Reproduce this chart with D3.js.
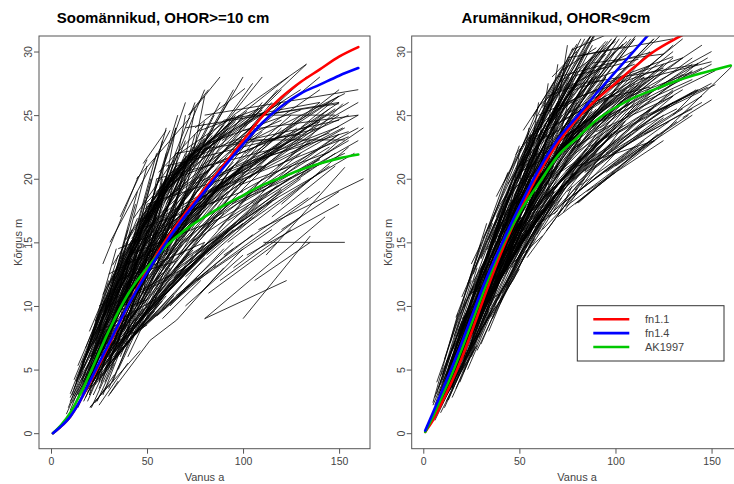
<!DOCTYPE html>
<html><head><meta charset="utf-8">
<script src="https://cdn.jsdelivr.net/npm/d3@7"></script>
<style>body{margin:0;background:#fff}svg{display:block}text{font-family:"Liberation Sans",Arial,sans-serif}</style>
</head><body><div id="chart"></div>
<script>
// ---------- DATA ----------
const panelTitles = ["Soomännikud, OHOR>=10 cm", "Arumännikud, OHOR<9cm"];
const xLabel = "Vanus a";
const yLabel = "Kõrgus m";
const xTicks = [0, 50, 100, 150];
const yTicks = [0, 5, 10, 15, 20, 25, 30];
const seriesNames = ["fn1.1", "fn1.4", "AK1997"];
const seriesColors = ["#ff0000", "#0000ff", "#00c800"];

// fitted curves, left panel: [age, height]
const leftFn11 = [[1,0],[5,0.5],[10,1.3],[15,2.5],[20,3.9],[30,6.9],[40,10.0],[50,12.8],[60,15.2],[70,17.3],[80,19.2],[90,21.1],[100,23.0],[110,24.9],[120,26.4],[130,27.6],[140,28.6],[150,29.6],[160,30.35]];
const leftFn14 = [[1,0],[5,0.5],[10,1.3],[15,2.5],[20,4.0],[30,7.0],[40,10.0],[50,12.6],[60,15.0],[70,17.1],[80,19.0],[90,20.9],[100,22.7],[110,24.4],[120,25.7],[130,26.7],[140,27.4],[150,28.1],[160,28.7]];
const leftAK = [[1,0],[5,0.6],[10,1.6],[15,3.0],[20,4.6],[30,8.0],[40,10.9],[50,13.0],[60,14.7],[70,16.0],[80,17.0],[90,17.9],[100,18.7],[110,19.5],[120,20.1],[130,20.7],[140,21.2],[150,21.6],[160,21.9]];
// fitted curves, right panel
const rightFn11 = [[1,0.1],[5,1.0],[10,2.5],[15,4.1],[20,5.9],[25,7.9],[30,10.0],[40,14.0],[50,17.4],[60,20.4],[70,22.8],[80,24.7],[90,26.2],[100,27.5],[110,28.8],[120,30.0],[130,30.9],[140,31.7]];
const rightFn14 = [[1,0.2],[5,1.6],[10,3.4],[15,5.2],[20,7.1],[25,9.1],[30,11.1],[40,14.6],[50,17.8],[60,20.7],[70,23.1],[80,24.9],[90,26.7],[100,28.4],[110,30.1],[120,31.8]];
const rightAK = [[1,0.1],[5,1.3],[10,3.0],[15,4.7],[20,6.6],[25,8.6],[30,10.6],[40,14.4],[50,17.3],[60,19.6],[70,21.8],[80,23.2],[90,24.6],[100,25.6],[110,26.4],[120,27.0],[130,27.6],[140,28.1],[150,28.5],[160,28.9]];

// measured trees: [age1, height1, age2, height2]
const leftSegments = [
[8,1.5,30,9],[9,2,35,12],[10,2.5,28,8],[10,1.8,40,13],[11,3,33,12.5],[12,2,45,14],[12,3.5,30,11],[13,2.5,38,11],[13,4,28,10.5],[14,3,50,16],
[14,2,42,12],[15,4.5,35,14],[15,2.5,55,17],[16,3,45,15],[16,5,30,12],[17,2.5,40,10],[17,4,52,18],[18,3.5,48,14],[18,6,34,14.5],[19,2.5,44,11],
[19,5,60,20],[20,3,38,9],[20,4.5,55,17.5],[21,2,30,5],[21,6,42,16],[22,3,36,7.5],[22,5,65,21],[23,4,50,13],[23,7,40,16],[24,2.5,33,5.5],
[24,5.5,58,18],[25,3.5,45,11],[25,8,44,18],[26,4,70,20],[26,6,52,16.5],[27,3,40,8],[27,9,45,19],[28,5,62,17],[28,4,50,12],[29,7,60,20],
[30,3.5,48,9.5],[30,9.5,50,21],[31,6,70,19],[31,5,55,13],[32,8,66,22],[32,4,44,8.5],[33,10,52,20],[33,6,75,18],[34,7,58,16],[35,5,60,13],
[35,11,55,22],[36,8,80,22],[36,6,50,11],[37,9,64,19],[38,12,58,23],[38,7,72,17],[39,10,68,21],[40,6,62,13],[40,13,60,24],[41,9,85,22],
[42,11,70,20],[42,7.5,55,11],[43,14,65,24],[44,10,78,20],[45,8,66,14.5],[45,15,70,26],[46,12,90,24],[47,9,75,16],[48,13,72,22],[48,16,66,25],
[49,10,68,15],[50,11,85,19],[50,14,80,24.5],[50,9,80,15],[52,12,95,21],[52,17,75,26],[54,10,74,14],[55,14,88,22],[55,18,80,27],[56,11,100,20],
[57,15,85,23],[58,9,78,12],[58,13,92,19],[59,16,95,25],[60,12,85,17],[60,18,88,26],[61,14,110,23],[62,10,90,14.5],[62,17,100,25],[63,15,82,20],
[64,12,105,19],[65,19,95,27],[65,13,88,17],[66,16,120,24],[67,11,95,15],[68,18,110,26],[68,14,98,20],[69,20,100,28],[70,15,115,22],[70,10,100,14],
[71,17,130,25],[72,13,108,18],[72,19,118,27],[73,16,90,20],[74,21,105,27.5],[75,14,125,21],[75,18,140,26],[76,12,115,16],[77,20,122,26],[78,16,135,23],
[78,22,110,28],[79,17,100,21],[80,9,142.7,17],[80,19,125,25],[81,14,120,19],[82,21,133,28],[82,11,118,15],[83,18,150,25],[84,15,130,20],[85,20,145,26],
[85,13,140,19],[86,22,120,27],[87,16,110,20],[88,19,152,24],[88,12,125,16],[89,23,130,27],[90,17,160,23],[90,14,134,18.5],[91,20,150,26],[92,15,140,20.5],
[93,22,140,27],[94,18,153,22],[95,13,130,17],[96,21,155,25],[96.7,23.05,153,23.05],[97,16,145,21],[98,24,133,29],[99,19,160,24],[100,9,135,15.5],[100,17,148,22],
[101,22,150,26.5],[102,14,150,18],[103,20,140,24.5],[104,23,153,26.7],[104.5,25,148,25],[105,18,162.7,24],[106,12,135,15],[107,21,145,25.5],[108,16,162.7,20],[108,24,140,28],
[110,19,150,23.5],[110.6,15,153,15],[111,22,155,26],[112,14,153,20.9],[113,20,152,25.9],[115,17,148,21],[116,23,150,27],[118,21,153,24],[120,18,155,22.5],[80,9,122.7,12],
[120,16,150,19],[125,22,160,25],[128,20,150,23],[130,24,150,26.5],
[15,3,40,12],[16,4,46,16],[18,2.8,38,9],[20,5,48,17],[22,4,52,14.5],[24,6,60,19],[26,5,46,13],[28,7,70,22],[30,6,55,15],[32,9,62,21],
[34,6.5,66,16],[36,10,70,23],[38,8,60,16],[40,11,76,23],[42,9,72,18],[44,12,82,23.5],[46,10,70,17],[48,14,85,25],[50,12,76,19],[52,13,100,23],
[54,15,82,23],[56,13,90,20],[58,17,92,26],[60,14,95,21],[62,15,108,24],[64,17,96,25],[66,14,102,20],[68,16,106,23],[70,18,120,26],[72,15,112,21],
[74,17,128,24],[76,19,115,26],[78,14,118,19.5],[80,16,130,22],[84,18,138,24],[86,17,145,22.5],[90,19,142,25],[94,20,148,25.5],[98,18,155,23],[102,21,160,26],
[106,19,150,23.5],[112,18,158,22],
[44.6,20,72.4,24.8],[48,21.2,60,23.8],[72,25,88,28],[75,24,101,27.1],[95,25,133,29],[90,24,123.6,28],[71.5,25,82,27],[27,13.3,45.5,20.2],[30.7,15,62,23.8],[36,17,50,21.5],
[10,3.1,30.7,11],[20.3,2.05,46.4,6.5],[30.7,3.1,51.6,7.3],[20.3,2,30.7,3.9],[29.8,2.9,35,4.1],[23,2.4,33,4.6],[25,2.2,40,5.5],[51.6,7.3,65.5,8.9],[65.5,8.9,90,13],[77.6,11,100,14.5],
[10,2.8,35,11.3],[11,2.4,40,9.9],[12,4.2,30,10.8],[12,2.9,50,12.5],[13,4.1,45,13.3],[14,2.9,32,7.2],[14,5.3,38,13.8],[15,4.3,55,14.8],[16,4.2,42,9.7],[16,5.5,35,11.8],
[17,3.0,44,9.0],[17,5.1,60,17.2],[18,6.7,40,15.0],[18,4.2,36,9.6],[19,6.3,52,14.9],[19,5.2,30,9.0],[20,8.0,45,16.9],[20,4.4,58,12.6],[21,6.1,40,12.7],[21,4.0,34,7.1],
[22,7.6,62,18.3],[22,5.8,48,12.8],[23,8.8,42,14.9],[23,5.5,70,15.3],[24,7.4,50,15.1],[24,5.1,45,9.7],[25,8.5,38,14.3],[25,7.0,66,16.8],[26,9.6,55,17.5],[26,6.6,44,9.5],
[27,8.1,48,12.8],[27,10.9,60,20.1],[28,6.4,75,15.3],[28,9.2,42,13.7],[29,10.4,52,16.2],[29,5.7,55,10.7],[30,9.0,64,17.2],[30,11.6,46,16.0],[31,8.0,50,12.5],[31,10.6,80,20.5],
[32,9.0,45,13.3],[32,13.2,58,19.6],[33,7.4,62,13.2],[33,10.8,70,19.0],[34,12.5,48,15.9],[34,6.1,60,10.8],[35,10.3,85,18.9],[35,12.3,55,18.2],[36,9.1,52,12.9],[36,13.7,78,22.5],
[37,11.3,60,15.8],[37,7.6,68,13.5],[38,12.7,54,16.0],[38,10.0,90,18.7],[39,15.2,66,21.2],[39,9.1,58,13.3],[40,11.6,72,17.8],[40,13.8,56,17.1],[41,7.8,70,13.1],[41,12.9,95,21.3],
[42,14.9,62,19.0],[42,10.3,60,15.1],[43,12.2,80,19.8],[43,16.9,64,21.5],[44,9.5,74,14.4],[44,14.3,58,16.8],[45,13.3,100,21.0],[45,11.5,65,14.5],[46,16.6,72,21.5],[46,9.2,62,12.5],
[47,14.4,85,21.1],[47,12.5,68,16.5],[48,15.9,110,23.7],[48,10.9,76,16.2],[49,13.6,64,17.2],[49,18.0,90,24.6],[50,12.5,78,17.2],[50,15.7,70,19.7],[51,9.5,82,14.6],[51,17.3,105,24.1],
[52,14.9,68,17.2],[52,11.6,95,18.4],[53,18.4,75,22.1],[53,13.7,88,19.9],[54,16.0,120,22.8],[54,10.6,72,14.1],[55,17.5,85,22.6],[55,12.8,78,17.2],[56,15.0,98,20.8],[56,20.5,80,24.3],
[57,11.7,90,17.3],[57,17.3,72,19.3],[58,16.1,115,22.0],[58,9.8,80,13.8],[59,19.1,95,23.5],[59,14.2,76,17.7],[60,17.2,130,23.2],[60,13.0,85,16.6],[62,20.4,88,23.6],[62,16.1,100,21.0],
[64,12.2,110,18.5],[64,18.7,82,20.6],[66,17.5,125,23.0],[66,21.9,95,24.9],[68,15.0,98,18.6],[68,20.2,140,24.5],[70,17.5,105,21.4],[70,12.3,115,18.2],[72,21.5,120,24.6],[72,17.1,92,19.7],
[74,19.6,150,24.1],[74,15.1,125,20.1],[76,23.7,110,25.6],[76,18.4,135,22.8],[78,14.2,120,19.2],[78,21.0,100,23.1],[80,19.8,145,23.6],[82,22.8,130,25.4],[84,17.4,140,21.5],[86,21.2,120,23.4],
[88,19.3,155,23.3],[90,24.6,140,26.0],[92,16.7,135,20.7],[95,22.8,150,24.6],[98,19.5,145,22.1],[100,23.8,160,25.0],[105,21.4,155,23.7],[110,25.0,150,25.9],
[15,4.8,35,11.8],[16,5.3,40,13.5],[18,5.9,38,12.6],[20,6.6,45,14.2],[21,7.2,42,14.5],[22,7.0,50,15.7],[23,7.8,44,15.0],[24,8.2,55,17.3],[25,8.5,48,16.0],[26,9.0,52,17.1],
[27,9.5,50,16.8],[28,9.9,58,18.6],[29,10.4,54,18.0],[30,10.8,62,19.6],[31,11.2,56,18.5],[32,11.5,60,19.7],[33,12.0,58,19.0],[34,12.3,66,20.8],[35,12.8,62,20.3],[36,13.1,70,21.7],
[37,13.6,64,20.5],[38,13.9,72,21.8],[39,14.4,68,21.3],[40,14.4,76,22.6],[41,14.9,70,21.5],[42,15.3,80,23.1],[43,15.6,74,22.5],[44,16.0,84,23.4],[45,16.3,78,22.8],[46,16.5,88,23.6],
[47,16.9,80,23.2],[48,17.2,92,24.0],[49,17.6,84,23.6],[50,17.6,96,24.5],[52,18.1,90,24.2],[54,18.6,100,24.8],[56,19.1,94,24.5],[58,19.6,104,25.0],[60,20.0,98,25.0],[62,20.4,110,25.4],
[64,20.8,102,25.3],[66,21.0,115,25.6],[68,21.4,108,25.5],[70,21.7,120,26.0],
[20,4.8,40,11.0],[22,5.5,46,12.4],[24,6.4,50,13.5],[26,7.0,54,14.3],[28,7.7,60,15.6],[30,8.2,64,16.3],[32,8.8,68,16.8],[34,9.4,72,17.5],[36,9.9,76,18.0],[38,10.5,80,18.7],
[40,11.0,84,19.2],[42,11.5,88,19.6],[44,12.0,92,20.0],[46,12.4,96,20.4],[48,12.9,100,20.8],[50,13.3,105,21.0],
[30,12.5,55,14.5],[35,14.5,60,16.0],[40,9.0,60,20.0],[45,11.0,65,22.0],[50,15.0,75,18.0],[25,10.0,45,11.5],[55,13.0,75,23.5],[60,18.5,85,21.0],
[20,4.4,45,9.7],[18,3.5,40,8.5],[22,4.2,50,10.0],[24,4.6,55,10.5],[26,5.5,48,9.8],[28,5.0,60,11.0],[30,6.0,58,11.5],[32,6.2,66,12.5],[34,6.8,62,11.8],[36,7.0,72,13.0],
[38,7.5,68,12.6],[40,7.8,76,13.5],[42,8.2,80,14.0],[44,8.6,74,13.2],[46,9.0,84,14.8],[48,9.4,78,14.0],[50,9.6,90,15.5],[52,10.2,86,15.0],[54,10.6,95,16.0],[56,11.0,88,15.2],
[58,11.4,100,16.5],[60,11.8,92,15.8],[62,12.2,105,17.0],[64,12.6,96,16.5],[66,13.0,110,17.8],[68,13.4,100,17.0],[70,13.8,118,18.5],
[16,2.8,36,7.0],[19,3.2,42,8.0],[21,3.6,38,6.8],[23,3.8,46,8.8],[25,4.2,44,7.8],[27,4.5,52,9.5],[29,5.2,50,9.0],[31,5.5,56,10.2],[33,5.8,54,9.6],[35,6.3,64,11.0],
[37,6.6,58,10.4],[39,7.0,70,12.0],[41,7.4,64,10.8],[43,7.6,72,11.6],[45,8.0,70,11.2],[47,8.3,82,12.8],[49,8.6,76,12.2],[55,9.2,86,13.2],[60,10.0,95,14.5],[65,10.8,105,15.6],
[25,6.5,60,17.0],[30,7.5,55,16.0],[35,8.5,65,17.5],[40,10.0,70,18.5],[45,11.0,75,19.0],[20,5.0,50,14.0],[28,8.0,40,9.0],[33,9.5,50,10.5],[38,10.5,60,12.0],[43,12.5,65,13.5],
[30,5,45,15],[35,7,50,18],[40,8,55,20],[45,10,60,22],[50,12,65,24],[55,13,70,25],[25,4,40,13],[20,3,32,11],[60,14,75,25.5],[65,15,80,26.5],[38,9,48,17],[48,11,58,20],
[30,10,70,13],[35,12,80,15],[40,14,90,17],[45,16,100,19],[50,18,110,21],[55,20,120,22.5],[60,21,140,24],[65,22,130,23.5],[25,8,60,11],[20,6,50,8.5],[70,24,150,26],[80,25,160,27]
];

const rightSegments = [
[3,0.8,20,6.5],[4,1.2,25,8.5],[5,1.5,18,6],[5,2.2,30,11],[6,1,22,6],[6,2.8,20,8.8],[7,3.1,25,12],[7,1.8,28,9],[8,2,24,7.5],[8,3,35,13],
[9,2.5,30,10],[9,1.6,22,5.5],[10,3.5,32,12.5],[10,2.4,40,14],[11,2,26,7],[11,4,30,12.8],[12,3,38,13.5],[12,4.5,28,11.5],[13,2.6,34,10],[13,5,42,16.5],
[14,3.4,30,9.8],[14,5.5,36,15],[15,4,45,15.5],[15,2.8,27,6.8],[16,5,33,12],[16,6.5,40,16.8],[17,3.5,40,12],[17,5.8,30,11.5],[18,4.5,48,16],[18,7.5,35,14.5],
[19,4,34,9.5],[19,6,52,19],[20,5.2,38,12.6],[20,8.5,45,18.5],[21,4.8,44,13.5],[21,7,34,12.5],[22,6,50,17],[22,9,40,16.5],[23,5,40,11],[23,7.8,55,20],
[24,6.5,42,14],[24,10,46,19],[25,6,36,9.8],[25,8.5,60,21],[26,7,48,15.5],[26,11,44,18.5],[27,7.5,58,19],[27,9.5,50,18.5],[28,6.5,45,12],[28,10.5,52,20],
[29,8,62,20],[29,12,48,20],[30,7,50,14],[30,11,65,23],[31,9,54,17.5],[31,13,52,21.5],[32,8.5,70,21],[32,10.5,48,16.5],[33,9.5,58,19],[33,14,56,23],
[34,8,52,14.5],[34,12,68,23.5],[35,11,62,20.5],[35,15,58,24],[36,9,70,19],[36,12.5,55,19.5],[37,10,58,16.5],[37,14,72,25],[38,11.5,66,21],[38,16,62,25],
[39,10.5,60,17],[39,13,75,24],[40,12,72,22],[40,15.5,64,24],[41,11,68,19],[41,17,66,26],[42,13,60,19],[42,14.5,80,26],[43,12.5,75,21.5],[43,18,68,27],
[44,14,70,22.5],[44,11.5,62,16.5],[45,15,85,26],[45,16.5,70,25],[46,13,80,21],[46,19,72,28],[47,14.5,66,20.5],[47,17,90,28],[48,13.5,72,19.5],[48,18,78,27.5],
[49,15.5,84,25],[49,20,75,29],[50,14,78,20.5],[50,17.5,95,28],[51,16,70,22],[51,21,80,30],[52,15,90,23.5],[52,18.5,82,27],[53,14.5,74,19.5],[53,22,82,31],
[54,17,88,25.5],[54,19.5,90,29],[55,16,95,24],[55,20.5,85,29],[56,15.5,80,20.5],[56,18,100,27],[57,17.5,85,24],[57,22.5,92,32],[58,16.5,98,23.5],[58,20,88,28],
[59,19,105,28],[59,23,95,33],[60,17,92,23],[60,21,100,30],[61,18,110,26],[61,24,90,32],[62,16,100,22],[62,20,95,27.5],[63,19.5,115,28],[63,25,100,34],
[64,18,105,24.5],[64,22,110,31],[65,17,90,21],[65,21,108,28],[66,19,120,27],[66,24,100,31],[67,18.5,98,23.5],[67,22.5,118,30],[68,20,102,26],[68,17.5,110,22.5],
[69,21.5,125,29],[69,25,105,32],[70,19,130,27],[70,17,100,20.5],[71,22,112,29],[71,23.5,120,31],[72,18,115,23],[73,24,110,31],[73,20,108,26],
[74,17.8,120,23],[74,22.5,135,29.5],[75,19.5,118,25.5],[75,25,115,32],[76,18.5,112,22.5],[77,23,125,29],[78,20,130,26],[78,26,110,32],[79,18,122,23.5],
[79,22,140,28.5],[80,18.1,120.5,23],[80,24,130,30],[81,21,142,27],[82,19.5,128,24.5],[82,25,120,31],[84,20.5,135,25.5],[85,23.5,140,29.5],[85,19,125,23],
[86,24.5,130,30.5],[88,22.5,143,29.1],[88,26,125,31.5],[89,20,138,25],[90,25,145,30.5],[91,21.5,145,26.5],[92,24,140,29],
[94,26,135,31],[95,20.5,132,24.5],[97,25,148,29.5],[98,22,145,26],[100,21,140,25],[102,26,150,30],[105,25,152,28.5],
[112,26,150,29],[115,23.5,140,25.5],[118,25,150,27.5],[120.5,23,160.4,28.8],[130,25,143,27],
[10,4,24,9.5],[11,3,36,12],[12,2.5,26,7.2],[13,4.2,40,15],[14,4.8,28,10.6],[15,3.6,38,12.5],[16,4.2,44,15],[17,6.2,35,13.5],[18,5,30,10],[19,7,42,16],
[20,6,50,17.5],[21,5.5,36,11.5],[22,7.5,45,16.5],[23,6,55,18],[24,8,38,13.5],[25,7,50,16.5],[26,9,56,20],[27,8,42,13.5],[28,9,60,21],[29,10,45,16],
[30,9,58,19],[31,11,48,17.5],[32,10,62,20.5],[33,11.5,50,18],[34,13,64,23],[35,10,55,16.5],[36,14,60,22.5],[37,12,70,22],[38,13,54,18.5],[39,15,70,24.5],
[40,13.5,58,19.5],[41,14.5,75,24],[42,16,64,23.5],[43,15,62,21],[44,17,78,27],[45,13,68,19],[46,16,74,24],[47,18,70,26],[48,15,85,24],[49,17,66,23],
[50,19,80,27.5],[51,18,88,26],[52,20,76,28],[53,17.5,80,24],[54,21,84,30],[55,18.5,75,23.5],[56,20,92,28.5],[57,19.5,78,25],[58,22,85,30],[59,18,90,24.5],
[60,19.5,82,25.5],[61,21.5,96,29],[62,23,88,30.5],[63,20.5,92,26.5],[64,19,86,23.5],[65,23,95,30],[66,21,105,28],[67,20,90,25],[68,23.5,98,30],[69,19.5,100,25],
[70,22,95,28],[71,20.5,110,26.5],[72,24.5,102,31],[73,21.5,125,28.5],[74,19.5,105,24.5],[75,23,100,28.5],[76,22,115,27.5],[77,25,108,31],[78,21,118,26.5],[80,22.5,110,27.5],
[82,23.5,120,28],[84,21,130,26],[86,22,112,26],[88,24,130,29.5],[90,21,125,25],[92,23,135,27],[95,22,130,26.5],
[5,1.2,25,8.8],[5,2.4,18,9.4],[6,2.2,30,12.1],[6,1.2,20,5.3],[7,4.0,22,10.6],[7,2.3,35,11.3],[8,3.5,28,13.0],[8,1.8,30,8.1],[9,4.5,40,15.7],[9,3.3,24,7.7],
[10,4.2,26,11.5],[10,3.0,45,15.0],[11,5.8,33,16.5],[11,2.7,28,6.9],[12,5.6,30,10.9],[12,4.0,38,13.7],[13,5.2,42,17.9],[13,3.6,25,7.7],[14,7.1,30,14.9],[14,4.9,50,15.5],
[15,6.5,35,13.0],[15,3.9,33,9.4],[16,7.6,45,19.4],[16,5.2,32,11.2],[17,9.1,36,16.5],[17,6.8,40,13.9],[18,5.3,38,10.0],[18,8.0,55,20.5],[19,9.3,34,14.0],[19,6.4,48,16.9],
[20,8.0,42,16.4],[20,5.0,35,9.6],[20,10.7,38,16.8],[21,9.9,46,18.3],[21,6.5,30,10.5],[22,9.3,40,17.1],[22,5.8,52,14.4],[23,11.7,44,20.5],[23,8.1,37,11.5],[24,10.8,58,20.7],
[24,7.4,43,14.4],[25,9.8,50,18.5],[25,13.3,40,18.0],[26,7.2,47,12.1],[26,11.9,36,14.7],[27,9.7,55,17.3],[27,13.0,50,22.6],[28,11.1,41,17.1],[28,8.8,60,17.4],[29,12.6,52,18.6],
[29,7.5,44,12.8],[30,13.7,62,23.9],[30,10.1,48,16.9],[31,11.6,45,15.0],[31,15.3,56,23.4],[32,9.1,58,15.3],[32,13.2,46,19.8],[33,11.9,65,21.8],[33,14.4,50,19.0],[34,10.6,52,17.6],
[34,16.1,60,25.7],[35,13.4,55,21.5],[35,9.1,50,12.9],[36,15.2,70,24.6],[36,12.1,48,14.9],[37,16.3,58,22.9],[37,11.1,62,19.4],[38,14.1,52,17.0],[38,18.6,55,23.6],[39,10.8,68,18.3],
[39,15.8,60,24.0],[40,13.9,75,23.2],[40,18.0,54,21.2],[40,10.2,56,15.5],[41,16.1,64,21.6],[41,12.4,58,18.0],[42,19.7,70,27.5],[42,14.6,54,19.6],[43,18.2,62,22.2],[43,11.5,72,18.5],
[44,16.2,60,22.4],[44,19.6,80,28.2],[45,14.5,66,19.2],[45,18.0,56,19.7],[46,13.3,62,15.5],[46,19.8,75,28.0],[47,17.6,70,24.0],[47,12.1,64,17.6],[48,21.9,62,24.5],[48,15.9,78,23.1],
[49,19.7,66,26.0],[49,15.1,60,16.9],[50,18.0,85,24.7],[50,22.1,68,27.6],[51,14.2,74,20.0],[51,19.8,62,23.9],[52,17.6,70,23.4],[52,23.8,76,29.4],[53,21.5,90,28.1],[53,15.8,68,20.7],
[54,19.6,64,20.5],[54,13.8,80,19.2],[55,23.1,72,25.6],[55,17.3,85,22.4],[56,20.8,78,26.7],[56,16.0,70,17.5],[57,24.9,80,30.6],[57,19.5,88,25.7],[58,22.4,74,24.2],[58,17.5,82,23.1],
[59,23.8,95,29.8],[59,15.6,76,19.8],[60,20.7,90,27.0],[60,25.7,72,27.3],[61,19.3,85,24.1],[61,23.7,100,29.4],[62,16.6,90,22.0],[62,25.6,78,30.3],[63,22.0,80,23.4],[63,18.6,110,25.7],
[64,23.9,88,28.5],[64,15.9,84,20.0],[65,25.8,95,30.8],[65,20.7,78,24.3],[66,18.6,100,23.1],[66,23.1,84,27.5],[67,28.0,88,31.3],[67,21.6,105,27.0],[68,25.3,80,26.4],[68,17.2,95,22.3],
[69,24.3,115,28.2],[69,20.3,86,22.0],[70,27.5,100,30.8],[70,22.8,92,25.6],[71,18.9,120,25.6],[71,25.4,85,28.8],[72,22.0,96,26.4],[72,28.5,90,30.3],[73,17.4,90,21.0],[73,27.0,110,30.1],
[74,24.2,100,26.7],[74,20.6,130,26.8],[75,26.8,92,27.7],[75,19.0,108,23.5],[76,25.2,120,29.1],[77,22.3,98,24.2],[77,30.1,95,31.3],[79,19.1,102,23.7],[79,28.1,112,29.4],
[80,26.4,125,28.7],[80,21.0,120.5,23.0],[82,29.7,105,30.4],[82,23.7,135,28.2],[84,20.6,115,24.2],[84,27.5,143,29.0],[86,26.0,118,27.2],[86,22.5,140,26.8],[88,29.1,125,29.8],[88,20.7,120,24.2],
[90,23.7,130,26.5],[92,24.5,140,27.8],[94,27.5,135,29.5],[95,21.5,125,24.8],[100,23.5,143,27.0],[102,28.0,130,29.6],[108,26.5,140,28.4],
[110,23.8,132,25.5],[113,27.8,150,29.2],[116,25.0,148,27.2],[122,27.0,145,28.7],[126,25.5,152,27.4],[135,24.8,150,26.2],[80.6,18.1,120,23.2],[70,17.1,77.4,19.4],
[15,6.0,30,11.3],[16,5.4,28,9.6],[18,7.7,32,12.8],[20,7.2,33,11.5],[21,9.0,36,14.0],[22,7.9,40,14.3],[23,9.6,35,13.8],[24,8.6,44,15.6],[25,10.9,42,16.8],[26,9.4,38,13.2],
[27,11.5,45,18.0],[28,9.8,46,15.0],[29,11.9,40,15.3],[30,10.5,50,17.0],[31,12.5,47,18.0],[32,11.0,52,17.0],[33,13.0,49,19.1],[34,11.8,58,18.5],[35,14.3,50,19.5],[36,12.3,54,17.4],
[37,14.5,56,20.6],[38,13.0,60,19.0],[39,15.4,58,22.4],[40,14.0,62,19.5],[41,16.2,59,22.0],[42,14.0,66,20.0],[43,16.8,63,23.5],[44,15.0,68,21.0],[45,17.8,64,24.4],[46,15.6,72,21.5],
[47,18.6,66,25.0],[48,16.8,74,22.8],[49,19.0,70,26.0],[50,17.0,76,23.0],[51,19.6,72,26.4],[52,17.8,80,24.0],[53,20.5,74,27.0],[54,18.4,78,23.6],[55,21.3,76,27.5],[56,19.0,84,24.6],
[57,21.7,78,28.0],[58,19.6,86,25.2],[59,22.5,80,28.5],[60,20.0,88,25.3],[61,22.8,84,28.8],[62,20.5,90,25.5],[63,23.6,86,29.2],[64,21.0,94,26.0],[65,24.2,88,29.6],[66,21.5,98,26.0],
[67,24.6,90,30.0],[68,22.0,100,26.5],[69,25.2,92,30.3],[70,22.4,104,26.6],[71,25.6,94,30.5],[72,23.0,106,27.0],[73,26.2,96,30.8],[74,23.3,110,27.3],[75,26.5,98,31.0],[76,23.5,112,27.4],
[78,27.0,100,31.0],[80,25.0,115,28.0],[82,27.2,104,30.6],[84,25.5,118,28.0],[86,28.0,106,30.8],
[20,6.5,36,11.0],[22,6.8,44,13.2],[25,8.2,48,14.2],[28,9.5,54,15.8],[31,10.2,58,16.6],[34,11.2,62,17.6],[37,12.2,66,18.7],[40,13.2,70,19.5],[43,14.2,74,20.3],[46,15.0,78,21.0],
[49,15.8,82,21.8],[52,16.5,86,22.4],[55,17.2,92,23.2],[58,17.8,96,23.6],[61,18.2,100,24.0],[64,18.7,104,24.2],
[26,12.5,42,18.3],[30,13.8,46,19.7],[34,15.2,52,21.8],[38,17.0,56,23.5],[42,18.3,60,24.6],[46,19.8,64,26.0],[50,21.0,68,27.2],[54,22.2,72,28.4],[58,23.5,76,29.4],[62,24.6,80,30.4],
[66,25.8,84,31.0],[70,26.8,88,31.5],[10,4.6,22,9.4],[12,4.6,24,9.6],[14,5.4,26,10.6],[8,2.6,20,7.4],[9,3.8,18,7.9],[11,3.4,23,8.4],
[40,16.5,50,17.5],[45,14.0,55,20.0],[50,20.5,62,21.5],[55,17.5,65,23.5],[60,23.0,70,23.8],[65,19.5,75,25.8],[70,25.5,80,26.2],[35,11.5,45,17.5],[30,12.8,40,13.8],[25,8.0,35,14.0],
[10,3.2,25,8.0],[11,3.5,30,9.5],[12,3.8,28,8.6],[13,4.1,32,10.0],[14,4.4,30,9.3],[15,4.8,36,11.0],[16,5.0,34,10.5],[17,5.4,38,11.8],[18,5.8,36,11.2],[19,6.0,40,12.5],
[20,6.3,42,13.0],[21,6.6,40,12.6],[22,7.0,46,14.2],[23,7.3,44,13.6],[24,7.6,48,14.8],[25,7.9,46,14.2],[26,8.2,52,15.6],[27,8.5,50,15.0],[28,8.8,54,16.0],[29,9.0,52,15.6],
[30,9.3,56,16.4],[31,9.6,54,15.9],[32,9.9,60,17.2],[33,10.2,58,16.7],[34,10.5,62,17.6],[35,10.9,60,17.2],[36,11.2,64,18.0],[38,11.8,66,18.3],[40,12.4,70,19.0],[42,13.0,72,19.4],
[44,13.6,76,20.0],[46,14.2,78,20.4],[48,14.8,82,21.0],[50,15.4,86,21.6],[52,15.9,88,22.0],[55,16.6,92,22.6],
[6,1.8,16,5.0],[7,2.0,18,5.6],[8,2.4,19,6.2],[9,2.8,21,7.0],[10,3.6,20,7.4],[5,1.6,15,5.2],[4,1.0,14,4.6],[3,0.9,12,3.8],
[20,5,30,12],[25,7,35,14.5],[30,9,40,17],[35,11,45,19.5],[40,13,50,22],[45,15,55,24],[50,16.5,60,26],[55,18,65,27.5],[60,19.5,70,29],[65,21,75,30.5],[15,3.5,25,10],[10,2.5,20,8.5],
[30,13,50,15],[35,15,60,18],[40,17,70,21],[45,19,80,23],[50,21,90,25],[55,23,95,26.5],[60,25,105,28],[65,26.5,110,29],[25,11,45,13],[20,9,40,11],[70,28,120,30],[75,29.5,130,31]
];

// ---------- DRAW ----------
const W = 734, H = 484;
const svg = d3.select("#chart").append("svg").attr("width", W).attr("height", H);

const panels = [
  {x0: 39, x1: 370, xdom: [-6.25, 166.1], titleX: 163, ylabX: 22, segs: leftSegments, curves: [leftFn11, leftFn14, leftAK]},
  {x0: 411.7, x1: 742.5, xdom: [-6.03, 166.1], titleX: 556, ylabX: 392, segs: rightSegments, curves: [rightFn11, rightFn14, rightAK]}
];
const yTop = 36, yBot = 448.7;

panels.forEach((p, i) => {
  const x = d3.scaleLinear().domain(p.xdom).range([p.x0, p.x1]);
  const y = d3.scaleLinear().domain([-1.22, 31.22]).range([yBot, yTop]);
  const g = svg.append("g");
  const clipId = "clip" + i;
  svg.append("clipPath").attr("id", clipId).append("rect")
    .attr("x", p.x0).attr("y", yTop).attr("width", p.x1 - p.x0).attr("height", yBot - yTop);
  const plot = g.append("g").attr("clip-path", `url(#${clipId})`);

  plot.append("g").selectAll("line").data(p.segs).join("line")
    .attr("x1", d => x(d[0])).attr("y1", d => y(d[1]))
    .attr("x2", d => x(d[2])).attr("y2", d => y(d[3]))
    .attr("stroke", "#000").attr("stroke-width", 0.8);

  const line = d3.line().x(d => x(d[0])).y(d => y(d[1])).curve(d3.curveMonotoneX);
  [0, 2, 1].forEach(k => {
    plot.append("path").datum(p.curves[k]).attr("d", line)
      .attr("fill", "none").attr("stroke", seriesColors[k]).attr("stroke-width", 2.6)
      .attr("stroke-linecap", "round");
  });

  // box
  g.append("rect").attr("x", p.x0).attr("y", yTop).attr("width", p.x1 - p.x0).attr("height", yBot - yTop)
    .attr("fill", "none").attr("stroke", "#555").attr("stroke-width", 1);

  // x axis
  const xa = g.append("g").attr("transform", `translate(0,${yBot})`)
    .call(d3.axisBottom(x).tickValues(xTicks).tickSize(5).tickPadding(4).tickFormat(d3.format("d")));
  xa.select(".domain").remove();
  xa.selectAll("line").attr("stroke", "#555");
  xa.selectAll("text").attr("fill", "#444").style("font-size", "10.5px").style("font-family", '"Liberation Sans",Arial,sans-serif');

  // y axis (labels parallel to axis)
  const ya = g.append("g").attr("transform", `translate(${p.x0},0)`)
    .call(d3.axisLeft(y).tickValues(yTicks).tickSize(5).tickFormat(d3.format("d")));
  ya.select(".domain").remove();
  ya.selectAll("line").attr("stroke", "#555");
  ya.selectAll("text").attr("fill", "#444").style("font-size", "10.5px").style("font-family", '"Liberation Sans",Arial,sans-serif')
    .attr("text-anchor", "middle").attr("transform", "rotate(-90)").attr("x", 0).attr("y", -7).attr("dy", 0);

  // titles
  svg.append("text").attr("x", p.titleX).attr("y", 23).attr("text-anchor", "middle")
    .style("font-size", "15px").style("font-weight", "bold").attr("fill", "#000").text(panelTitles[i]);
  svg.append("text").attr("x", (p.x0 + p.x1) / 2).attr("y", 481).attr("text-anchor", "middle")
    .style("font-size", "11px").attr("fill", "#444").text(xLabel);
  svg.append("text").attr("transform", `translate(${p.ylabX},${(yTop + yBot) / 2}) rotate(-90)`)
    .attr("text-anchor", "middle").style("font-size", "11px").attr("fill", "#444").text(yLabel);
});

// legend (right panel)
const lg = svg.append("g");
lg.append("rect").attr("x", 577.3).attr("y", 305.7).attr("width", 146.7).attr("height", 55.3)
  .attr("fill", "#fff").attr("stroke", "#333").attr("stroke-width", 1);
seriesNames.forEach((n, k) => {
  const yy = 319.3 + k * 13.85;
  lg.append("line").attr("x1", 593.3).attr("x2", 629.3).attr("y1", yy).attr("y2", yy)
    .attr("stroke", seriesColors[k]).attr("stroke-width", 2.6);
  lg.append("text").attr("x", 645).attr("y", yy + 4).style("font-size", "11px").attr("fill", "#444").text(n);
});
</script></body></html>
